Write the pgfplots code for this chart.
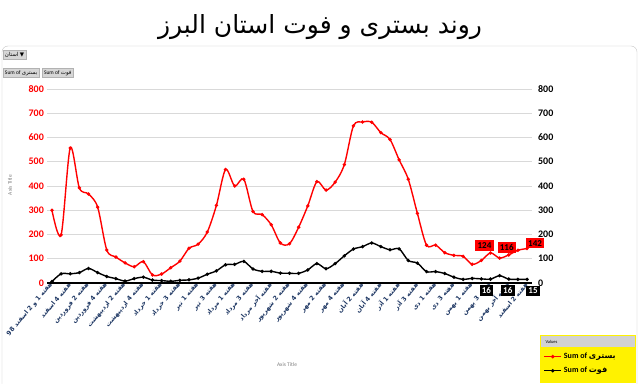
\documentclass[border=0pt]{standalone}
\usepackage{pgfplots}
\pgfplotsset{compat=1.18}
\usepackage{pgfplotstable}
\usepackage{fontspec}
\setmainfont{Carlito}
\newfontfamily\arabicfont[Script=Arabic]{DejaVu Sans}
\newfontfamily\symfont{DejaVu Sans}
\TeXXeTstate=1
\definecolor{navy}{HTML}{1F3864}
\definecolor{gridc}{HTML}{D9D9D9}
\definecolor{btn}{HTML}{D6D6D6}

\pgfplotstableread{
x bed death
0 300 6
1 198 38
2 557 38
3 392 43
4 367 60
5 313 43
6 136 27
7 107 18
8 83 8
9 67 18
10 88 24
11 33 12
12 37 10
13 63 7
14 90 11
15 143 13
16 160 20
17 210 36
18 320 50
19 468 75
20 400 77
21 428 89
22 295 58
23 282 48
24 240 48
25 165 41
26 162 40
27 230 40
28 318 54
29 418 80
30 383 59
31 416 80
32 488 112
33 648 140
34 664 150
35 663 165
36 620 150
37 592 137
38 508 141
39 428 93
40 287 82
41 156 47
42 156 47
43 125 39
44 114 24
45 110 15
46 77 19
47 93 17
48 124 16
49 103 30
50 116 16
51 135 15
52 142 15
}\datatable

\begin{document}
\begin{tikzpicture}
\useasboundingbox (0pt,0pt) rectangle (640pt,383pt);
\fill[white] (0pt,0pt) rectangle (640pt,383pt);
\draw[gray!45, rounded corners=6pt] (2pt,-10pt) -- (2pt,337pt) -- (637pt,337pt) -- (637pt,-10pt);
\node at (320pt,356pt) {\fontsize{25}{30}\selectfont\arabicfont\beginR روند بستری و فوت استان البرز\endR};
% pivot buttons
\node[fill=btn, draw=gray!60, inner sep=1.8pt, anchor=west, font=\fontsize{5.5}{6}\selectfont] at (3pt,328pt) {{\arabicfont\beginR استان\endR} {\symfont ▼}};
\node[fill=btn, draw=gray!60, inner sep=1.8pt, anchor=west, font=\fontsize{5.5}{6}\selectfont] at (3pt,310pt) {Sum of {\arabicfont\beginR بستری\endR}};
\node[fill=btn, draw=gray!60, inner sep=1.8pt, anchor=west, font=\fontsize{5.5}{6}\selectfont] at (42pt,310pt) {Sum of {\arabicfont\beginR فوت\endR}};
% axis titles
\node[rotate=90, text=gray, font=\fontsize{5.5}{6}\selectfont] at (10pt,198pt) {Axis Title};
\node[text=gray, font=\fontsize{5.5}{6}\selectfont] at (287pt,18pt) {Axis Title};
% legend box
\fill[yellow] (540pt,0pt) rectangle (636pt,48pt);
\fill[gray!35] (541pt,36pt) rectangle (635pt,47pt);
\node[anchor=west, font=\fontsize{4.5}{5}\selectfont] at (542pt,41.5pt) {Values};

\begin{axis}[
  at={(47.4pt,100pt)}, anchor=south west, scale only axis,
  width=484.2pt, height=194pt,
  xmin=-0.5, xmax=52.5, ymin=0, ymax=800,
  axis x line*=bottom, axis y line*=left,
  x axis line style={line width=1.8pt, black},
  y axis line style={draw=none},
  major tick length=0pt,
  ytick={0,100,...,800},
  ymajorgrids, grid style={gridc, line width=0.8pt},
  xtick={0,2,...,52},
  xticklabels={
{\arabicfont\beginR هفته 1 و 2 اسفند 98\endR},
{\arabicfont\beginR هفته 4 اسفند\endR},
{\arabicfont\beginR هفته 2 فروردین\endR},
{\arabicfont\beginR هفته 4 فروردین\endR},
{\arabicfont\beginR هفته 2 اردیبهشت\endR},
{\arabicfont\beginR هفته 4 اردیبهشت\endR},
{\arabicfont\beginR هفته 1 خرداد\endR},
{\arabicfont\beginR هفته 3 خرداد\endR},
{\arabicfont\beginR هفته 1 تیر\endR},
{\arabicfont\beginR هفته 3 تیر\endR},
{\arabicfont\beginR هفته 1 مرداد\endR},
{\arabicfont\beginR هفته 3 مرداد\endR},
{\arabicfont\beginR هفته آخر مرداد\endR},
{\arabicfont\beginR هفته 2 شهریور\endR},
{\arabicfont\beginR هفته 4 شهریور\endR},
{\arabicfont\beginR هفته 2 مهر\endR},
{\arabicfont\beginR هفته 4 مهر\endR},
{\arabicfont\beginR هفته 2 آبان\endR},
{\arabicfont\beginR هفته 4 آبان\endR},
{\arabicfont\beginR هفته 1 آذر\endR},
{\arabicfont\beginR هفته 3 آذر\endR},
{\arabicfont\beginR هفته 1 دی\endR},
{\arabicfont\beginR هفته 3 دی\endR},
{\arabicfont\beginR هفته 1 بهمن\endR},
{\arabicfont\beginR هفته 3 بهمن\endR},
{\arabicfont\beginR هفته آخر بهمن\endR},
{\arabicfont\beginR هفته 2 اسفند\endR}},
  x tick label style={rotate=50, anchor=east, text=navy, font=\bfseries\fontsize{6.3}{7}\selectfont, inner sep=1pt},
  y tick label style={text=red, font=\bfseries\fontsize{10}{12}\selectfont},
  /pgf/number format/assume math mode=true,
  clip=false,
]
\addplot[red, line width=1.4pt, smooth, mark=*, mark size=0.9pt] table[x=x, y=bed] {\datatable};
\addplot[draw=none, mark=none, nodes near coords, point meta=explicit,
  every node near coord/.append style={fill=red, text=black, font=\bfseries\fontsize{9}{10}\selectfont, inner sep=2.2pt, anchor=south, yshift=2pt, xshift=-6pt}]
  coordinates {(48,124) [124]};
\addplot[draw=none, mark=none, nodes near coords, point meta=explicit,
  every node near coord/.append style={fill=red, text=black, font=\bfseries\fontsize{9}{10}\selectfont, inner sep=2.2pt, anchor=south, yshift=2pt, xshift=-2pt}]
  coordinates {(50,116) [116]};
\addplot[draw=none, mark=none, nodes near coords, point meta=explicit,
  every node near coord/.append style={fill=red, text=black, font=\bfseries\fontsize{9}{10}\selectfont, inner sep=2.2pt, anchor=south, yshift=0pt, xshift=8pt}]
  coordinates {(52,142) [142]};
\end{axis}

\begin{axis}[
  at={(47.4pt,100pt)}, anchor=south west, scale only axis,
  width=484.2pt, height=194pt,
  xmin=-0.5, xmax=52.5, ymin=0, ymax=800,
  axis x line=none, axis y line*=right,
  y axis line style={draw=none},
  major tick length=0pt,
  ytick={0,100,...,800}, xtick=\empty,
  y tick label style={text=black, font=\bfseries\fontsize{10}{12}\selectfont, xshift=3pt},
  /pgf/number format/assume math mode=true,
  clip=false,
  legend style={at={(1.022,-0.345)}, anchor=north west, fill=none, draw=none,
    font=\bfseries\fontsize{8}{9}\selectfont, row sep=3pt, inner sep=1pt},
  legend cell align=left,
]
\addlegendimage{red, line width=1.4pt, mark=*, mark size=1pt}
\addlegendentry{Sum of {\arabicfont\beginR بستری\endR}}
\addplot[black, line width=1.4pt, smooth, mark=*, mark size=0.9pt] table[x=x, y=death] {\datatable};
\addlegendentry{Sum of {\arabicfont\beginR فوت\endR}}
\addplot[draw=none, mark=none, nodes near coords, point meta=explicit, forget plot,
  every node near coord/.append style={fill=black, text=white, font=\bfseries\fontsize{9}{10}\selectfont, inner sep=2.2pt, anchor=north, yshift=-6pt, xshift=-4pt}]
  coordinates {(48,16) [16]};
\addplot[draw=none, mark=none, nodes near coords, point meta=explicit, forget plot,
  every node near coord/.append style={fill=black, text=white, font=\bfseries\fontsize{9}{10}\selectfont, inner sep=2.2pt, anchor=north, yshift=-6pt, xshift=-1pt}]
  coordinates {(50,16) [16]};
\addplot[draw=none, mark=none, nodes near coords, point meta=explicit, forget plot,
  every node near coord/.append style={fill=black, text=white, font=\bfseries\fontsize{9}{10}\selectfont, inner sep=2.2pt, anchor=north, yshift=-6pt, xshift=6pt}]
  coordinates {(52,15) [15]};
\end{axis}
\end{tikzpicture}
\end{document}
